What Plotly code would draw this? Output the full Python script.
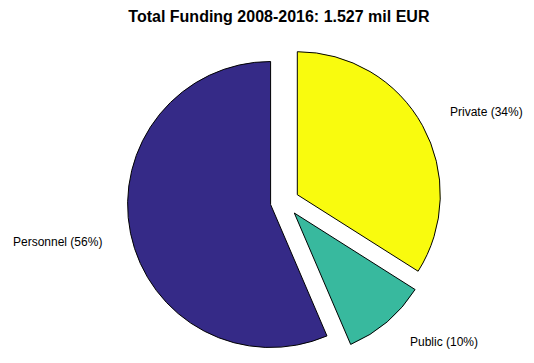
import plotly.graph_objects as go

# ---- data (mil EUR) ----
labels = ["Private", "Public", "Personnel"]
values = [0.519, 0.146, 0.862]
colors = ["#f9fb0e", "#38b99e", "#352a87"]
title_text = "Total Funding 2008-2016: 1.527 mil EUR"

# ---- layout constants ----
W, H = 534, 363
CX, CY, R = 270.6, 204.5, 143          # pie centre and radius in px
explode_px = [(26.7, -9.8), (23.7, 8.5), (0.0, 0.0)]  # explode offsets per slice
label_pos = [(448, 111.5), (407.7, 342), (11, 242)]   # label anchor (left, middle)
FONT = "Liberation Sans, Arial, Helvetica, sans-serif"

total = sum(values)
fig = go.Figure()
for i, (dx, dy) in enumerate(explode_px):
    cx, cy = CX + dx, CY + dy
    dom_x = [(cx - R) / W, (cx + R) / W]
    dom_y = [1 - (cy + R) / H, 1 - (cy - R) / H]
    fig.add_trace(go.Pie(
        labels=labels,
        values=values,
        sort=False,
        direction="clockwise",
        rotation=0,
        textinfo="none",
        hoverinfo="label+value+percent",
        marker=dict(
            colors=[c if j == i else "rgba(0,0,0,0)" for j, c in enumerate(colors)],
            line=dict(color="#000000",
                      width=[1 if j == i else 0 for j in range(len(values))]),
        ),
        domain=dict(x=dom_x, y=dom_y),
        showlegend=False,
    ))

annotations = []
for lab, v, (lx, ly) in zip(labels, values, label_pos):
    annotations.append(dict(
        text=f"{lab} ({round(100 * v / total)}%)",
        x=lx / W, y=1 - ly / H, xref="paper", yref="paper",
        xanchor="left", yanchor="middle", showarrow=False,
        font=dict(family=FONT, size=12, color="#000000"),
    ))

fig.update_layout(
    width=W, height=H,
    margin=dict(l=0, r=0, t=0, b=0),
    paper_bgcolor="white",
    plot_bgcolor="white",
    title=dict(text=f"<b>{title_text}</b>", x=278.9 / W, xanchor="center",
               y=1 - 16.5 / H, yanchor="middle", yref="container",
               font=dict(family=FONT, size=16, color="#000000")),
    annotations=annotations,
)

fig.write_html("out.html",
               config={"displayModeBar": False},
               post_script="document.body.style.margin='0px';"
                           "document.body.style.overflow='hidden';")
